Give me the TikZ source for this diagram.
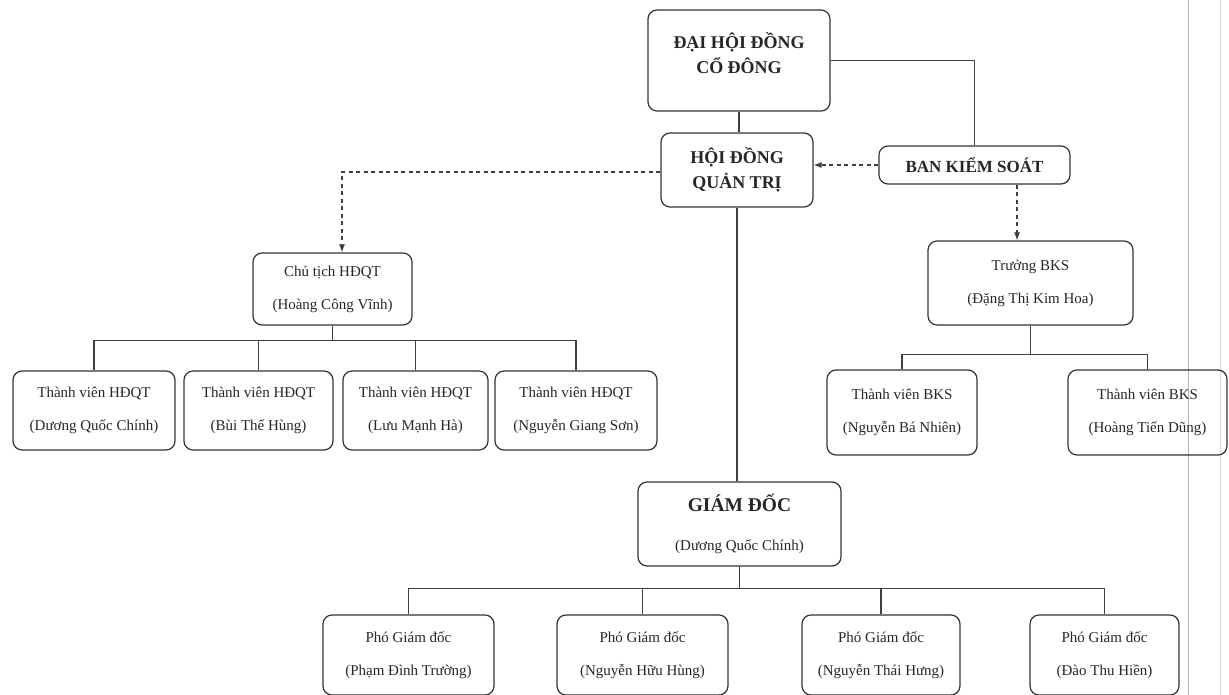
\documentclass[tikz,border=0pt]{standalone}
\usepackage{fontspec}
\setmainfont{Liberation Serif}
\usetikzlibrary{arrows.meta}

\begin{document}
\begin{tikzpicture}[x=1pt,y=-1pt,
  box/.style={draw=black!80,line width=1.2pt,rounded corners=9pt,align=center,inner sep=0pt,
    minimum height=79pt,text=black!85,font=\fontsize{15}{33}\selectfont},
  head/.style={box,font=\fontsize{18}{25}\selectfont\bfseries},
  link/.style={draw=black!75,line width=1.1pt},
  dlink/.style={link,dash pattern=on 4pt off 3.5pt},
  darr/.style={dlink,-{Latex[length=8pt,width=6pt]}}]
\path[use as bounding box] (0,0) rectangle (1229,695);

\draw[black!30,line width=0.8pt] (1188,0) -- (1188,695);
\draw[black!15,line width=0.8pt] (1220,0) -- (1220,695);

\node[head,minimum width=182pt,minimum height=101pt,text depth=15pt] (dhd) at (739,60.5) {ĐẠI HỘI ĐỒNG\\CỔ ĐÔNG};
\node[head,minimum width=152pt,minimum height=74pt] (hdqt) at (737,170) {HỘI ĐỒNG\\QUẢN TRỊ};
\node[head,minimum width=191pt,minimum height=38pt,font=\fontsize{17}{20}\selectfont\bfseries] (bks) at (974.5,165) {BAN KIỂM SOÁT};

\draw[link] (dhd) -- (dhd |- hdqt.north);
\draw[link] (dhd.east) -| (bks.north);
\draw[darr] (bks.west) -- (bks.west -| hdqt.east);

\node[box,minimum width=159pt,minimum height=72pt] (ct) at (332.5,289) {Chủ tịch HĐQT\\(Hoàng Công Vĩnh)};
\node[box,minimum width=162pt] (tv1) at (94,410.5) {Thành viên HĐQT\\(Dương Quốc Chính)};
\node[box,minimum width=149pt] (tv2) at (258.5,410.5) {Thành viên HĐQT\\(Bùi Thế Hùng)};
\node[box,minimum width=145pt] (tv3) at (415.5,410.5) {Thành viên HĐQT\\(Lưu Mạnh Hà)};
\node[box,minimum width=162pt] (tv4) at (576,410.5) {Thành viên HĐQT\\(Nguyễn Giang Sơn)};

\draw[darr] ([yshift=-2pt]hdqt.west) -| ([xshift=9.5pt]ct.north);
\foreach \c in {tv1,tv2,tv3,tv4}
  \draw[link] (ct.south) -- ++(0,15) -| (\c.north);

\node[box,minimum width=205pt,minimum height=84pt] (tb) at (1030.5,283) {Trưởng BKS\\(Đặng Thị Kim Hoa)};
\node[box,minimum width=150pt,minimum height=85pt] (bv1) at (902,412.5) {Thành viên BKS\\(Nguyễn Bá Nhiên)};
\node[box,minimum width=159pt,minimum height=85pt] (bv2) at (1147.5,412.5) {Thành viên BKS\\(Hoàng Tiến Dũng)};

\draw[darr] ([xshift=-13.5pt]tb.north |- bks.south) -- ([xshift=-13.5pt]tb.north);
\foreach \c in {bv1,bv2}
  \draw[link] (tb.south) -- ++(0,29) -| (\c.north);

\node[box,minimum width=203pt,minimum height=84pt,font=\fontsize{15}{39}\selectfont] (gd) at (739.5,524) {{\fontsize{19.5}{39}\selectfont\bfseries GIÁM ĐỐC}\\(Dương Quốc Chính)};
\node[box,minimum width=171pt,minimum height=80pt] (pgd1) at (408.5,655) {Phó Giám đốc\\(Phạm Đình Trường)};
\node[box,minimum width=171pt,minimum height=80pt] (pgd2) at (642.5,655) {Phó Giám đốc\\(Nguyễn Hữu Hùng)};
\node[box,minimum width=158pt,minimum height=80pt] (pgd3) at (881,655) {Phó Giám đốc\\(Nguyễn Thái Hưng)};
\node[box,minimum width=149pt,minimum height=80pt] (pgd4) at (1104.5,655) {Phó Giám đốc\\(Đào Thu Hiền)};

\draw[link] (hdqt.south) -- (hdqt.south |- gd.north);
\foreach \c in {pgd1,pgd2,pgd3,pgd4}
  \draw[link] (gd.south) -- ++(0,22) -| (\c.north);
\end{tikzpicture}
\end{document}
